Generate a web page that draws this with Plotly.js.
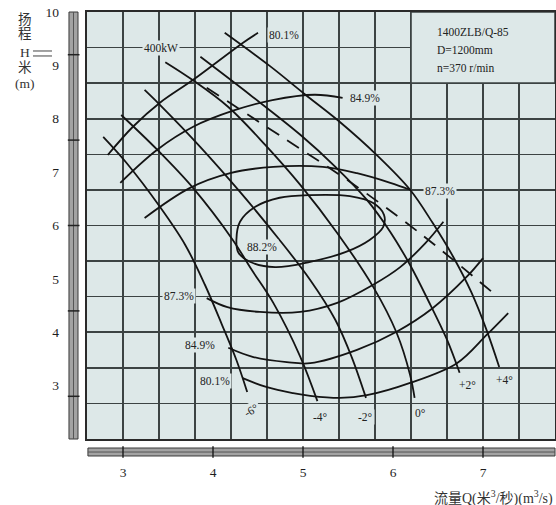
<!DOCTYPE html>
<html><head><meta charset="utf-8">
<script src="https://cdn.plot.ly/plotly-3.0.1.min.js"></script>
<style>html,body{margin:0;padding:0;background:#fff;}</style>
</head><body>
<div id="chart" style="width:556px;height:505px;"></div>
<script>
// ---- tick labels ----
const xTicks = [3, 4, 5, 6, 7];
const yTicks = [3, 4, 5, 6, 7, 8, 9, 10];
const yBarTicks = [2.8, 4.4, 6.0, 7.6, 9.2];

// ---- blade-angle H-Q curves ----
const bladeNames = ['-6°', '-4°', '-2°', '0°', '+2°', '+4°'];
const qM6 = [2.78, 3.04, 3.41, 3.69, 3.91, 4.10, 4.26, 4.38];
const hM6 = [7.66, 7.17, 6.35, 5.64, 4.89, 4.14, 3.48, 2.88];
const qM4 = [2.98, 3.38, 3.78, 4.22, 4.43, 4.67, 4.97, 5.16];
const hM4 = [8.07, 7.42, 6.70, 5.73, 5.17, 4.55, 3.54, 2.71];
const qM2 = [3.24, 3.41, 3.86, 4.30, 4.72, 5.08, 5.36, 5.54, 5.70];
const hM2 = [8.54, 8.26, 7.47, 6.63, 5.77, 4.98, 4.23, 3.54, 2.77];
const q0 = [3.47, 3.77, 4.17, 4.58, 4.97, 5.38, 5.78, 6.04, 6.19, 6.24];
const h0 = [9.06, 8.73, 8.22, 7.51, 6.76, 5.86, 4.85, 3.99, 3.20, 2.77];
const qP2 = [3.86, 4.41, 4.97, 5.36, 5.71, 5.97, 6.19, 6.39, 6.60, 6.74];
const hP2 = [9.16, 8.45, 7.70, 7.10, 6.48, 5.88, 5.26, 4.60, 3.86, 3.24];
const qP4 = [4.13, 4.63, 5.02, 5.41, 5.82, 6.19, 6.44, 6.67, 6.87, 7.04, 7.18];
const hP4 = [9.61, 8.99, 8.46, 7.94, 7.32, 6.67, 6.05, 5.41, 4.75, 4.04, 3.35];

// ---- dashed limit line ----
const qLim = [3.93, 4.82, 5.52, 6.28, 7.11];
const hLim = [8.58, 7.60, 6.82, 5.88, 4.74];

// ---- efficiency contours ----
const q801Up = [2.83, 3.11, 3.41, 3.78, 4.33, 4.50];
const h801Up = [7.32, 7.85, 8.30, 8.73, 9.42, 9.61];
const q801Lo = [4.33, 4.60, 4.89, 5.08, 5.41, 5.71, 6.19, 6.71, 7.04, 7.28];
const h801Lo = [3.14, 2.97, 2.86, 2.81, 2.77, 2.82, 3.05, 3.42, 3.95, 4.36];
const q849Up = [2.97, 3.38, 3.78, 4.24, 4.66, 5.13, 5.44];
const h849Up = [6.80, 7.42, 7.85, 8.16, 8.35, 8.45, 8.39];
const q849Lo = [4.17, 4.44, 4.82, 5.08, 5.60, 6.04, 6.44, 6.82, 7.00];
const h849Lo = [3.71, 3.54, 3.44, 3.42, 3.67, 4.01, 4.45, 5.04, 5.39];
const q873Up = [3.24, 3.74, 4.19, 4.67, 5.22, 5.60, 5.97, 6.19];
const h873Up = [6.14, 6.70, 6.98, 7.10, 7.10, 6.98, 6.80, 6.67];
const q873Lo = [3.93, 4.16, 4.52, 4.97, 5.38, 5.78, 6.08, 6.36, 6.56];
const h873Lo = [4.64, 4.47, 4.38, 4.38, 4.55, 4.89, 5.22, 5.67, 6.07];
const q882 = [4.26, 4.30, 4.47, 4.74, 5.08, 5.52, 5.78, 5.90, 5.89, 5.74, 5.47, 5.08, 4.69, 4.41, 4.28, 4.26];
const h882 = [5.73, 6.07, 6.35, 6.52, 6.57, 6.55, 6.42, 6.20, 5.97, 5.73, 5.50, 5.32, 5.22, 5.32, 5.50, 5.73];

// ---- labels ----
const effLabels = ['80.1%', '84.9%', '87.3%', '88.2%', '87.3%', '84.9%', '80.1%'];
const effLabelQ = [4.79, 5.69, 6.52, 4.54, 3.62, 3.86, 4.02];
const effLabelH = [9.57, 8.39, 6.65, 5.60, 4.68, 3.76, 3.09];
const bladeLabelQ = [4.43, 5.19, 5.69, 6.30, 6.83, 7.24];
const bladeLabelH = [2.54, 2.41, 2.41, 2.49, 3.01, 3.11];
const powerLabel = '400kW';
const powerLabelQ = 3.42, powerLabelH = 9.333;
const infoLines = ['1400ZLB/Q-85', 'D=1200mm', 'n=370 r/min'];

const BG = '#dde8e8';
const GRID = '#3c4343';
const INK = '#141414';
const SERIF = 'Liberation Serif, DejaVu Serif, serif';

const curve = (x, y, extra) => Object.assign({
  x: x, y: y, type: 'scatter', mode: 'lines',
  line: {color: INK, width: 1.8, shape: 'spline', smoothing: 1},
  hoverinfo: 'skip', showlegend: false
}, extra || {});

const traces = [
  curve(qM6, hM6), curve(qM4, hM4), curve(qM2, hM2),
  curve(q0, h0), curve(qP2, hP2), curve(qP4, hP4),
  curve(q801Up, h801Up), curve(q801Lo, h801Lo),
  curve(q849Up, h849Up), curve(q849Lo, h849Lo),
  curve(q873Up, h873Up), curve(q873Lo, h873Lo),
  curve(q882, h882),
  curve(qLim, hLim, {xaxis: 'x2', yaxis: 'y2',
    line: {color: INK, width: 1.8, dash: '14px,10px', shape: 'spline', smoothing: 1}})
];

const annotations = [];
effLabels.forEach((t, i) => annotations.push({
  x: effLabelQ[i], y: effLabelH[i], xref: 'x', yref: 'y', text: t, showarrow: false,
  font: {family: SERIF, size: 11.5, color: '#222'}, bgcolor: BG, borderpad: 1
}));
bladeNames.forEach((t, i) => annotations.push({
  x: bladeLabelQ[i], y: bladeLabelH[i], xref: 'x', yref: 'y', text: t, showarrow: false,
  textangle: i === 0 ? -30 : 0,
  font: {family: SERIF, size: 11.5, color: '#222'}, bgcolor: BG, borderpad: 1
}));
annotations.push({
  x: powerLabelQ, y: powerLabelH, xref: 'x', yref: 'y', text: powerLabel, showarrow: false,
  font: {family: SERIF, size: 11.5, color: '#222'}, bgcolor: BG, borderpad: 1
});
const infoY = [0.9532, 0.9110, 0.8689];
infoLines.forEach((t, i) => annotations.push({
  x: 0.7436, y: infoY[i], xref: 'paper', yref: 'paper', xanchor: 'left', yanchor: 'middle',
  text: t, showarrow: false, font: {family: SERIF, size: 11.5, color: '#222'}
}));
// y-axis title (vertical stacked)
const yTitleParts = [['扬', 0.9813], ['程', 0.9485], ['H', 0.9063], ['米', 0.8689], ['(m)', 0.8337]];
yTitleParts.forEach(p => annotations.push({
  x: -0.1315, y: p[1], xref: 'paper', yref: 'paper', xanchor: 'center', yanchor: 'middle',
  text: p[0], showarrow: false,
  font: {family: 'Liberation Serif, Noto Sans CJK SC, serif', size: 13.5, color: '#333'}
}));
// x-axis title
annotations.push({
  x: 1.0, y: -0.136, xref: 'paper', yref: 'paper', xanchor: 'right', yanchor: 'middle',
  text: '流量Q(米<sup>3</sup>/秒)(m<sup>3</sup>/s)', showarrow: false,
  font: {family: 'Liberation Serif, Noto Sans CJK SC, serif', size: 14, color: '#333'}
});

const shapes = [
  // box behind model info
  {type: 'rect', xref: 'x', yref: 'y', x0: 6.2, x1: 7.8, y0: 8.6667, y1: 10,
   fillcolor: BG, line: {color: GRID, width: 1.6}, layer: 'between'},
  // x scale bar
  {type: 'rect', xref: 'paper', yref: 'paper', x0: 0.002, x1: 1.0, y0: -0.0398, y1: -0.0211,
   fillcolor: '#a3a3a3', line: {color: '#3a3a3a', width: 1}},
  {type: 'line', xref: 'paper', yref: 'paper', x0: 0.002, x1: 1.0, y0: -0.0305, y1: -0.0305,
   line: {color: '#555', width: 1}},
  // y scale bar
  {type: 'rect', xref: 'paper', yref: 'paper', x0: -0.0385, x1: -0.0192, y0: 0.0, y1: 1.0,
   fillcolor: '#a3a3a3', line: {color: '#3a3a3a', width: 1}},
  {type: 'line', xref: 'paper', yref: 'paper', x0: -0.02885, x1: -0.02885, y0: 0.0, y1: 1.0,
   line: {color: '#555', width: 1}},
  // "H ══" dashes
  {type: 'line', xref: 'paper', yref: 'paper', x0: -0.1154, x1: -0.0748, y0: 0.9087, y1: 0.9087,
   line: {color: '#444', width: 1}},
  {type: 'line', xref: 'paper', yref: 'paper', x0: -0.1154, x1: -0.0748, y0: 0.8970, y1: 0.8970,
   line: {color: '#444', width: 1}}
];
xTicks.forEach(v => shapes.push({type: 'line', xref: 'x', yref: 'paper', x0: v, x1: v,
  y0: -0.044, y1: -0.017, line: {color: '#222', width: 1.5}}));
yBarTicks.forEach(v => shapes.push({type: 'line', xref: 'paper', yref: 'y', x0: -0.041, x1: -0.016,
  y0: v, y1: v, line: {color: '#222', width: 1.5}}));

const layout = {
  width: 556, height: 505,
  margin: {l: 87, r: 1, t: 12, b: 66, pad: 0},
  paper_bgcolor: '#ffffff', plot_bgcolor: BG,
  showlegend: false,
  xaxis: {range: [2.6, 7.8], tick0: 2.6, dtick: 0.4, showgrid: true, gridcolor: GRID, gridwidth: 1.6,
    showticklabels: false, ticks: '', zeroline: false, showline: true, mirror: true,
    linecolor: '#2a2a2a', linewidth: 2, fixedrange: true},
  yaxis: {range: [2, 10], tick0: 2, dtick: 2 / 3, showgrid: true, gridcolor: GRID, gridwidth: 1.6,
    showticklabels: false, ticks: '', zeroline: false, showline: true, mirror: true,
    linecolor: '#2a2a2a', linewidth: 2, fixedrange: true},
  xaxis2: {overlaying: 'x', anchor: 'y2', side: 'bottom', range: [2.6, 7.8], tickvals: xTicks,
    ticktext: xTicks.map(String), showgrid: false, zeroline: false, showline: false, ticks: '',
    ticklabelstandoff: 23, tickfont: {family: SERIF, size: 13.5, color: '#1e1e1e'}, fixedrange: true},
  yaxis2: {overlaying: 'y', anchor: 'x2', side: 'left', range: [2, 10], tickvals: yTicks,
    ticktext: yTicks.map(String), showgrid: false, zeroline: false, showline: false, ticks: '',
    ticklabelstandoff: 27, tickfont: {family: SERIF, size: 13.5, color: '#1e1e1e'}, fixedrange: true},
  annotations: annotations,
  shapes: shapes
};

Plotly.newPlot('chart', traces, layout, {staticPlot: true, displayModeBar: false});
</script>
</body></html>
